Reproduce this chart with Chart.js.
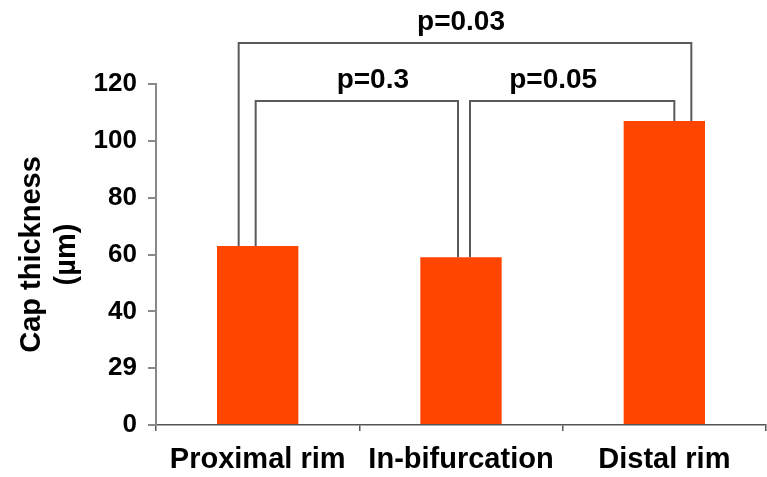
<!DOCTYPE html>
<html>
<head>
<meta charset="utf-8">
<script src="https://cdn.jsdelivr.net/npm/chart.js@4"></script>
<style>
  body { margin: 0; background: #fff; }
  canvas { display: block; }
</style>
</head>
<body>
<canvas id="chart" width="767" height="477"></canvas>
<script>
const categories = ['Proximal rim', 'In-bifurcation', 'Distal rim'];
const capThickness = [63, 59, 107];
// the original figure labels the 20 tick as "29"
const yTickLabels = ['0', '29', '40', '60', '80', '100', '120'];

// significance brackets
const compFrom = [0, 1, 0];
const compTo = [1, 2, 2];
const compLabels = ['p=0.3', 'p=0.05', 'p=0.03'];

const FONT = '"Liberation Sans", Arial, sans-serif';

// where each bracket sits (data units for level, pixels for offsets)
const bracketLayout = [
    { level: 114, fromDx: -2, toDx: -3, labelDx: 16 },
    { level: 114, fromDx: 9, toDx: 10, labelDx: -19 },
    { level: 134.4, fromDx: -19, toDx: 27, labelDx: -4 }
];

const bracketPlugin = {
    id: 'brackets',
    afterDraw(chart) {
        const ctx = chart.ctx;
        const x = chart.scales.x;
        const y = chart.scales.y;
        ctx.save();
        ctx.strokeStyle = '#5a5a5a';
        ctx.lineWidth = 2;
        ctx.fillStyle = '#000';
        ctx.font = 'bold 28px ' + FONT;
        ctx.textAlign = 'center';
        ctx.textBaseline = 'middle';
        compLabels.forEach((label, i) => {
            const lay = bracketLayout[i];
            const x1 = x.getPixelForValue(compFrom[i]) + lay.fromDx;
            const x2 = x.getPixelForValue(compTo[i]) + lay.toDx;
            const yTop = y.getPixelForValue(lay.level);
            const y1 = y.getPixelForValue(capThickness[compFrom[i]]);
            const y2 = y.getPixelForValue(capThickness[compTo[i]]);
            ctx.beginPath();
            ctx.moveTo(x1, y1);
            ctx.lineTo(x1, yTop);
            ctx.lineTo(x2, yTop);
            ctx.lineTo(x2, y2);
            ctx.stroke();
            ctx.fillText(label, (x1 + x2) / 2 + lay.labelDx, yTop - 21);
        });
        ctx.restore();
    }
};

const canvas = document.getElementById('chart');
const chart = new Chart(canvas, {
    type: 'bar',
    data: {
        labels: categories,
        datasets: [
            {
                label: 'Cap thickness',
                data: capThickness,
                backgroundColor: '#ff4500',
                borderWidth: 0,
                barPercentage: 0.4,
                categoryPercentage: 1
            }
        ]
    },
    options: {
        responsive: false,
        animation: false,
        layout: {
            padding: { top: 84, right: 1, left: 0, bottom: 0 }
        },
        plugins: {
            legend: { display: false },
            tooltip: { enabled: false }
        },
        scales: {
            x: {
                afterFit: (scale) => { scale.height = 52; },
                grid: {
                    offset: true,
                    drawOnChartArea: false,
                    tickLength: 6,
                    color: '#555',
                    lineWidth: 1.5
                },
                border: { color: '#555', width: 1.5 },
                ticks: {
                    padding: 12,
                    color: '#000',
                    font: { family: FONT, size: 29, weight: 'bold' },
                    maxRotation: 0
                }
            },
            y: {
                min: 0,
                max: 120,
                afterFit: (scale) => { scale.width = 156; },
                grid: {
                    drawOnChartArea: false,
                    tickLength: 8,
                    color: '#888',
                    lineWidth: 2
                },
                border: { color: '#888', width: 2 },
                ticks: {
                    stepSize: 20,
                    padding: 11,
                    color: '#000',
                    font: { family: FONT, size: 26, weight: 'bold' },
                    callback: (value, index) => yTickLabels[index]
                },
                title: {
                    display: true,
                    text: ['Cap thickness', '(\u00b5m)'],
                    color: '#000',
                    font: { family: FONT, size: 29, weight: 'bold', lineHeight: 1.2 },
                    padding: { top: 15, bottom: 0 }
                }
            }
        }
    },
    plugins: [bracketPlugin]
});
</script>
</body>
</html>
